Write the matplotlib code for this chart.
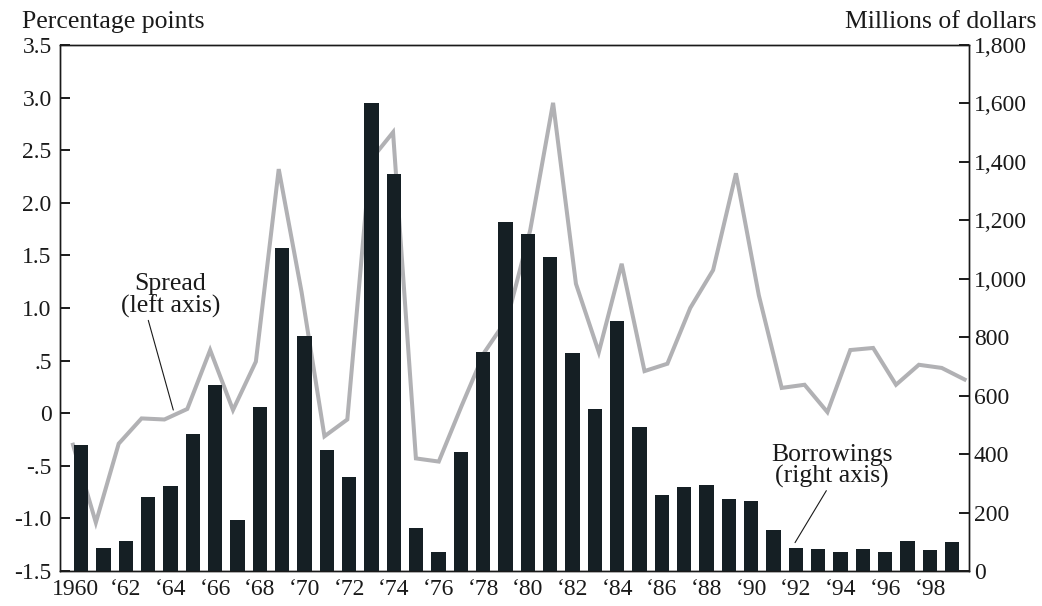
import numpy as np
import matplotlib
matplotlib.use("Agg")
import matplotlib.pyplot as plt
import matplotlib.transforms as mtrans

plt.rcParams['font.family'] = ['Liberation Serif', 'DejaVu Serif']

# data
years = list(range(1960, 2000))
borrowings = [430, 80, 104, 252, 292, 469, 636, 176, 562, 1105,
              805, 413, 323, 1600, 1358, 146, 66, 406, 750, 1193,
              1153, 1073, 747, 554, 854, 492, 260, 287, 294, 245,
              240, 141, 78, 74, 66, 74, 66, 104, 71, 98]
spread = [-0.30, -1.04, -0.29, -0.05, -0.06, 0.04, 0.60, 0.03, 0.49, 2.32,
          1.15, -0.22, -0.06, 2.40, 2.67, -0.43, -0.46, 0.07, 0.58, 0.90,
          1.74, 2.95, 1.23, 0.58, 1.42, 0.40, 0.47, 1.00, 1.36, 2.28,
          1.12, 0.24, 0.27, 0.01, 0.60, 0.62, 0.27, 0.46, 0.43, 0.32]
left_ticks = [-1.5, -1.0, -0.5, 0, 0.5, 1.0, 1.5, 2.0, 2.5, 3.0, 3.5]
left_labels = ['-1.5', '-1.0', '-.5', '0', '.5', '1.0', '1.5', '2.0', '2.5', '3.0', '3.5']
right_ticks = [0, 200, 400, 600, 800, 1000, 1200, 1400, 1600, 1800]
right_labels = ['0', '200', '400', '600', '800', '1,000', '1,200', '1,400', '1,600', '1,800']
xlabels = ['1960'] + ['\u2018%02d' % (y % 100) for y in years[2::2]]

bar_col = '#151f24'
line_col = '#b1b1b4'
ink = '#1a1a1a'

fig = plt.figure(figsize=(10.42, 6.06), dpi=100)
ax = fig.add_axes([0.0576, 0.0578, 0.8724, 0.868])
ax2 = ax.twinx()

idx = np.arange(len(years))
# the spread line runs a little wider than the bars, from the first bar's edge to the right spine
xline = np.linspace(-0.36, 39.55, len(years))
ax.plot(xline, spread, color=line_col, lw=2.9, solid_joinstyle='miter', zorder=1)
ax2.bar(idx, borrowings, width=0.64, color=bar_col, zorder=2)

ax.set_xlim(-0.94, 39.75)
ax.set_ylim(-1.5, 3.5)
ax2.set_ylim(0, 1800)

ax.set_yticks(left_ticks)
ax.set_yticklabels(left_labels)
ax2.set_yticks(right_ticks)
ax2.set_yticklabels(right_labels)
ax.set_xticks(idx[::2])
ax.set_xticklabels(xlabels)

ax.tick_params(axis='y', direction='in', length=7, width=1.4, color=ink,
               labelsize=17, pad=6, labelcolor=ink)
ax2.tick_params(axis='y', direction='in', length=7, width=1.4, color=ink,
                labelsize=17, pad=3.5, labelcolor=ink)
ax.tick_params(axis='x', length=0, labelsize=17, pad=6, labelcolor=ink)

# the "1960" label sits a bit left of its bar
first = ax.get_xticklabels()[0]
first.set_transform(first.get_transform() +
                    mtrans.ScaledTranslation(-6 / 100, 0, fig.dpi_scale_trans))

for a in (ax, ax2):
    for s in a.spines.values():
        s.set_color(ink)
        s.set_linewidth(1.0)

fig.text(22 / 1042, 1 - 28 / 606, 'Percentage points', fontsize=18.5, color=ink,
         ha='left', va='baseline')
fig.text(1036 / 1042, 1 - 28 / 606, 'Millions of dollars', fontsize=18.5, color=ink,
         ha='right', va='baseline')

ax.annotate('Spread\n(left axis)', xy=(4.13, 0.03), xytext=(4.0, 1.12),
            fontsize=18.5, color=ink, ha='center', va='center', linespacing=0.95,
            arrowprops=dict(arrowstyle='-', color=ink, lw=0.8,
                            shrinkA=0, shrinkB=0, relpos=(0.27, 0.0)))
ax2.annotate('Borrowings\n(right axis)', xy=(31.96, 97), xytext=(33.6, 360),
             fontsize=18.5, color=ink, ha='center', va='center', linespacing=0.95,
             arrowprops=dict(arrowstyle='-', color=ink, lw=0.8,
                             shrinkA=0, shrinkB=0, relpos=(0.47, 0.0)))

fig.savefig('out.png', dpi=100)
